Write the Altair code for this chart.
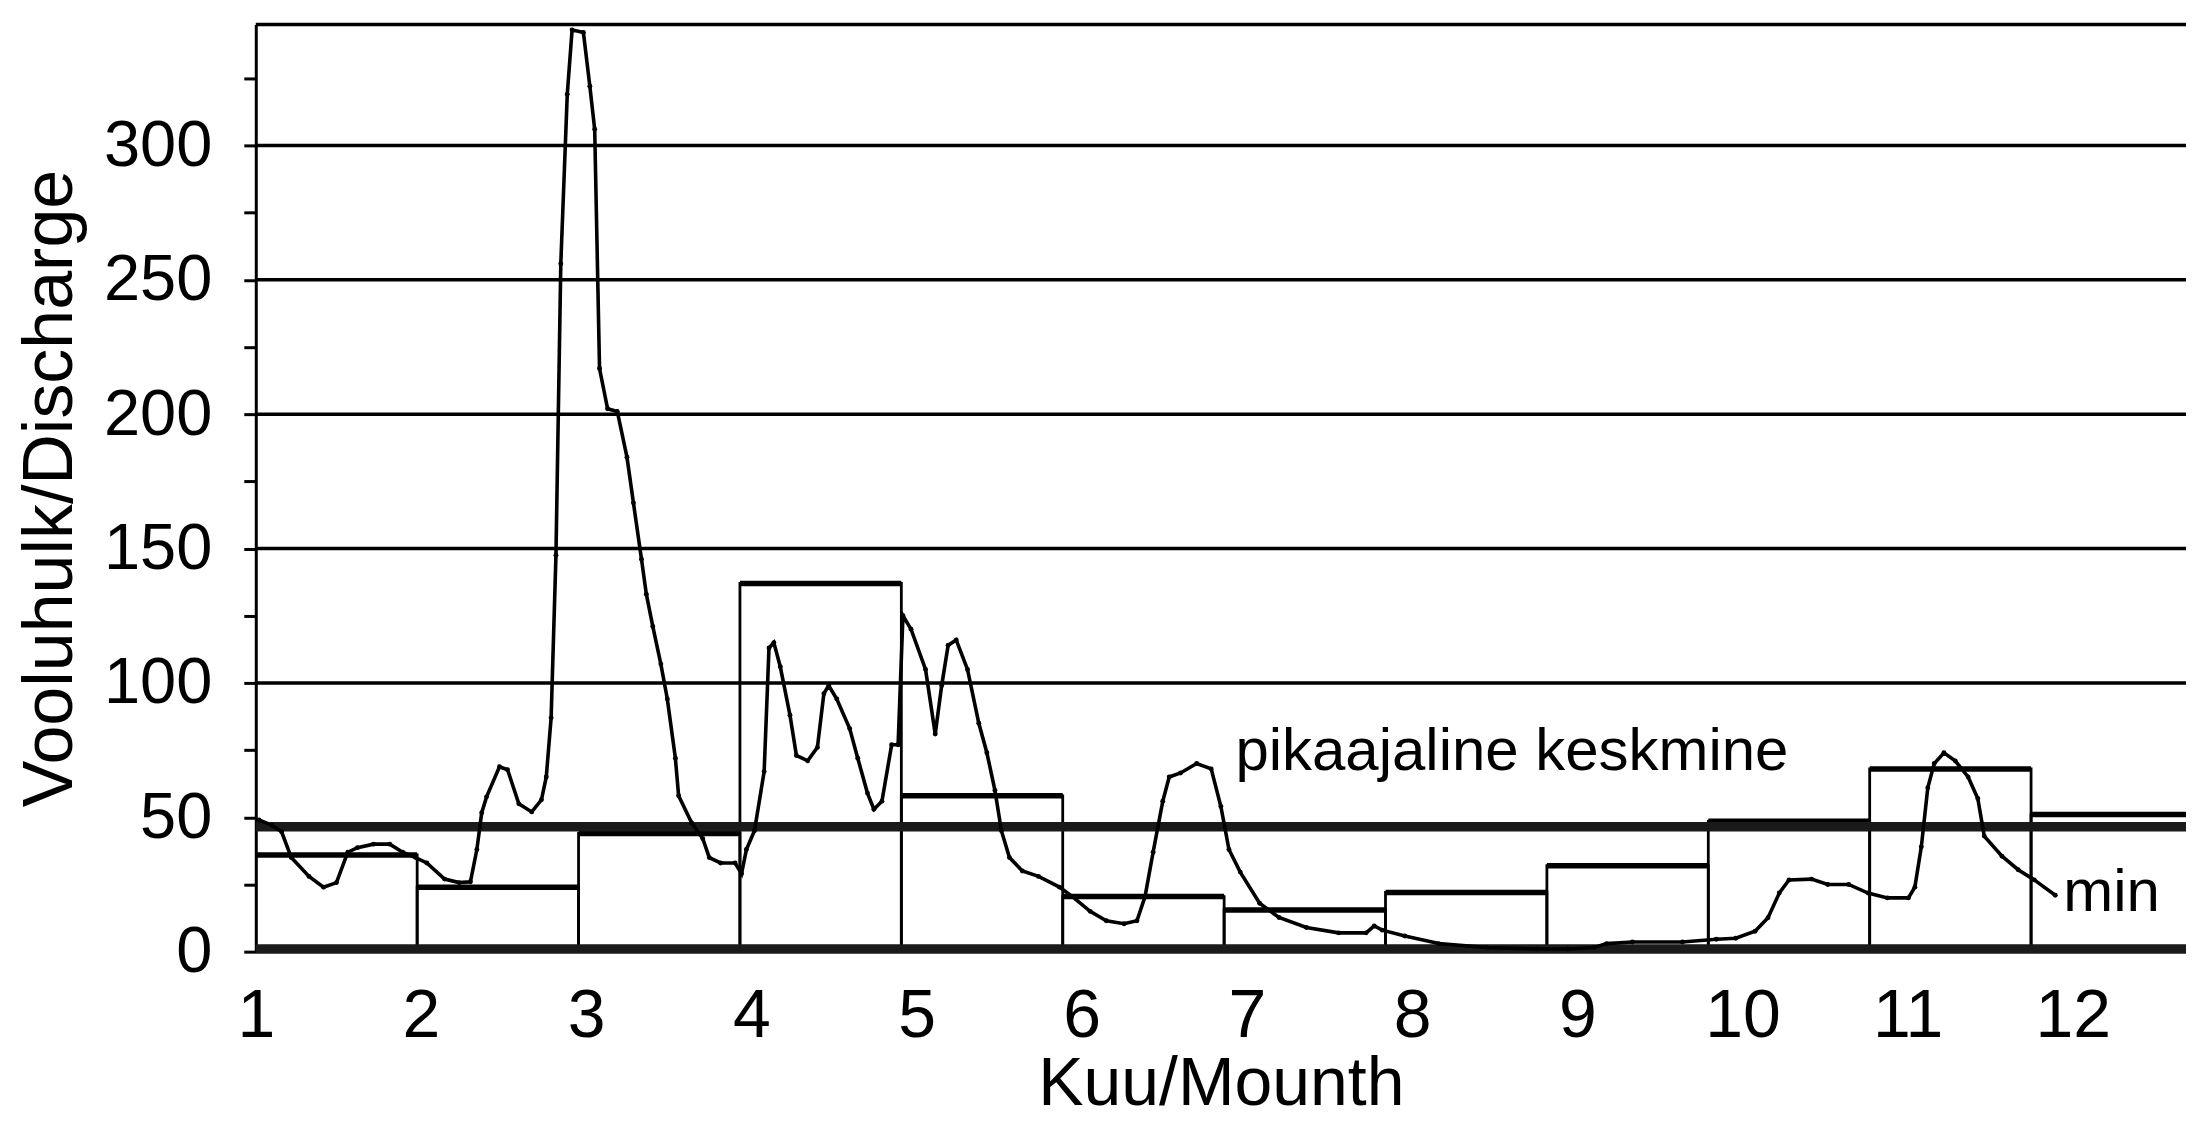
import altair as alt
import pandas as pd

# daily discharge (month position, discharge)
t_vals = [1.02, 1.10, 1.16, 1.22, 1.33, 1.42, 1.50, 1.57, 1.63, 1.73, 1.83, 1.91, 1.99,
          2.06, 2.17, 2.26, 2.33, 2.37, 2.40, 2.43, 2.51, 2.56, 2.63, 2.71, 2.77, 2.80,
          2.83, 2.86, 2.89, 2.93, 2.96, 3.03, 3.07, 3.10, 3.13, 3.18, 3.24, 3.30, 3.34,
          3.39, 3.42, 3.46, 3.51, 3.55, 3.60, 3.62, 3.70, 3.77, 3.81, 3.88, 3.97, 4.01,
          4.04, 4.09, 4.15, 4.18, 4.21, 4.25, 4.31, 4.35, 4.42, 4.48, 4.52, 4.55, 4.60,
          4.68, 4.73, 4.79, 4.83, 4.88, 4.94, 4.98, 5.01, 5.06, 5.15, 5.21, 5.25, 5.29,
          5.34, 5.41, 5.48, 5.53, 5.58, 5.62, 5.67, 5.75, 5.85, 5.98, 6.06, 6.17, 6.27,
          6.38, 6.46, 6.51, 6.56, 6.62, 6.66, 6.73, 6.83, 6.92, 6.98, 7.03, 7.10, 7.22,
          7.34, 7.51, 7.71, 7.88, 7.93, 7.98, 8.12, 8.33, 8.63, 8.94, 9.13, 9.29, 9.37,
          9.53, 9.84, 10.05, 10.17, 10.29, 10.37, 10.44, 10.50, 10.64, 10.74, 10.87,
          10.99, 11.11, 11.24, 11.28, 11.32, 11.36, 11.40, 11.46, 11.53, 11.61, 11.67,
          11.71, 11.82, 11.92, 12.02, 12.15]
q_vals = [49, 47, 44.6, 35, 28, 24, 25.7, 37, 38.7, 40, 40, 37, 35,
          33, 27, 25.7, 26, 38, 51.7, 57.6, 68.8, 67.7, 55, 52, 56.5, 65,
          87, 147.5, 256, 319, 343, 342, 322, 306, 217, 202, 201, 184, 167,
          146, 133, 121, 107, 94, 72, 58, 48, 42, 35, 33, 33, 29,
          38, 45, 67, 113, 115, 106, 88, 73, 71, 76, 96, 99, 94,
          83, 72, 59, 53, 56, 77, 77, 125, 120, 105, 81, 99, 114,
          116, 105, 85, 74, 60, 45, 35, 30, 28, 24, 20.5, 15, 11.5,
          10.4, 11.5, 20.5, 37, 56, 65, 66.5, 70, 68, 54, 38, 29.6, 18,
          12.7, 9, 7, 7, 9.6, 8, 5.8, 3, 1.5, 1, 1, 1.5, 3,
          3.6, 3.6, 4.6, 5, 7.6, 12.6, 21.8, 26.7, 27, 25, 25,
          21.8, 20, 20, 24, 39, 61, 70, 74, 71, 65, 57,
          43, 35.5, 30.5, 26.7, 21]

# monthly means
month_start = [1, 2, 3, 4, 5, 6, 7, 8, 9, 10, 11, 12]
month_mean = [36, 24, 44, 137, 58, 20.5, 15.5, 22, 32, 48.5, 68, 51]

longterm_mean = [46.5]
min_line = [1.0]
grid_values = [100, 150, 200, 250, 300, 345]
x_ticks = [1, 2, 3, 4, 5, 6, 7, 8, 9, 10, 11, 12]
y_ticks = [0, 25, 50, 75, 100, 125, 150, 175, 200, 225, 250, 275, 300, 325]

FONT = "Liberation Sans, Arial, sans-serif"
XDOM = [1, 12.96]
YDOM = [0, 345]

xs = alt.Scale(domain=XDOM, nice=False, zero=False)
ys = alt.Scale(domain=YDOM, nice=False, zero=False)

daily = pd.DataFrame({"t": t_vals, "q": q_vals})
months = pd.DataFrame({"m0": month_start,
                       "m1": [m + 1 for m in month_start],
                       "v": month_mean,
                       "z": [0] * len(month_start)})
grid = pd.DataFrame({"v": grid_values})
ltm = pd.DataFrame({"v": longterm_mean})
mn = pd.DataFrame({"v": min_line})

y_axis = alt.Axis(values=y_ticks,
                  labelExpr="datum.value % 50 == 0 ? datum.label : ''",
                  tickSize=12, tickWidth=3, tickColor="black",
                  domain=True, domainWidth=3, domainColor="black",
                  grid=False, labelFontSize=65, labelFont=FONT, labelColor="black",
                  labelPadding=32, title="Vooluhulk/Discharge", titleFont=FONT,
                  titleFontSize=70, titleFontWeight="normal", titleColor="black",
                  titlePadding=17)
x_axis = alt.Axis(values=x_ticks, tickSize=0, domain=False, grid=False,
                  labelFontSize=68, labelFont=FONT, labelColor="black", labelPadding=31,
                  labelFlush=False,
                  labelOffset={"expr": "(datum.value - 1) * 3.8"},
                  title="Kuu/Mounth", titleFont=FONT, titleFontSize=68,
                  titleFontWeight="normal", titleColor="black", titlePadding=0)


def X(field):
    return alt.X(field, scale=xs, axis=x_axis)


def Y(field):
    return alt.Y(field, scale=ys, axis=y_axis)


gridlines = alt.Chart(grid).mark_rule(color="black", strokeWidth=3.5).encode(
    y=Y("v:Q")
)

boxes = alt.Chart(months).mark_rect(fillOpacity=0, stroke="black", strokeWidth=2.8,
                                    clip=True).encode(
    x=X("m0:Q"), x2="m1:Q", y=Y("z:Q"), y2="v:Q",
)

box_tops = alt.Chart(months).mark_rule(color="black", strokeWidth=5.5, clip=True).encode(
    x=X("m0:Q"), x2="m1:Q", y=Y("v:Q"),
)

mean_line = alt.Chart(ltm).mark_rule(color="#1a1a1a", strokeWidth=9.5).encode(y=Y("v:Q"))
min_rule = alt.Chart(mn).mark_rule(color="#1a1a1a", strokeWidth=9.5).encode(y=Y("v:Q"))

line = alt.Chart(daily).mark_line(color="black", strokeWidth=3.6, clip=True).encode(
    x=X("t:Q"), y=Y("q:Q"),
)
dots = alt.Chart(daily).mark_circle(color="black", size=24, opacity=1, clip=True).encode(
    x=X("t:Q"), y=Y("q:Q"),
)

labels = pd.DataFrame({"x": [7.07, 12.2], "y": [67.5, 15],
                       "txt": ["pikaajaline  keskmine", "min"]})
texts = alt.Chart(labels).mark_text(align="left", baseline="alphabetic", fontSize=60,
                                    font=FONT, color="black").encode(
    x=X("x:Q"), y=Y("y:Q"), text="txt:N",
)

chart = alt.layer(gridlines, boxes, box_tops, mean_line, min_rule, line, dots, texts).properties(
    width=1932, height=928,
    padding={"left": 248, "top": 16, "right": 2, "bottom": 168},
    autosize=alt.AutoSizeParams(type="none"),
    background="white",
).configure_view(stroke=None)

chart.save("out.html", embed_options={"renderer": "svg", "actions": False})
